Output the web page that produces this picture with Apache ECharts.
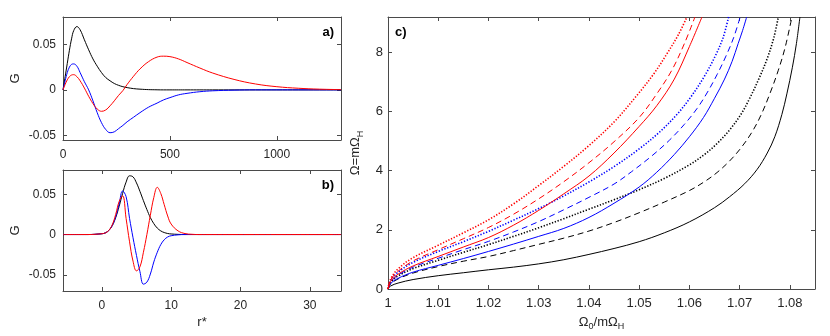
<!DOCTYPE html>
<html>
<head>
<meta charset="utf-8">
<script src="https://cdn.jsdelivr.net/npm/echarts@6/dist/echarts.min.js"></script>
<style>
  html, body { margin: 0; padding: 0; background: #fff; }
  #main { width: 830px; height: 336px; }
</style>
</head>
<body>
<div id="main"></div>
<script>
// panel a) : G against r (wide range)
var aX     = [0, 10, 20, 30, 40, 50, 65, 80, 100, 120, 140, 160, 180, 200, 220, 240, 260, 280, 300, 330, 360, 400, 440, 470, 500, 540, 580, 640, 700, 800, 900, 1000, 1100, 1200, 1300];
var aBlack = [0, 0.0145, 0.029, 0.0435, 0.056, 0.065, 0.0695, 0.066, 0.055, 0.044, 0.034, 0.026, 0.019, 0.0135, 0.010, 0.007, 0.005, 0.0035, 0.0025, 0.0014, 0.0008, 0.0003, 0.0001, 0, 0, 0, 0, 0, 0, 0, 0, 0, 0, 0, 0];
var aBlue  = [0, 0.010, 0.019, 0.025, 0.028, 0.0285, 0.026, 0.019, 0.009, 0, -0.012, -0.025, -0.036, -0.0435, -0.047, -0.046, -0.0425, -0.039, -0.035, -0.030, -0.025, -0.019, -0.0145, -0.011, -0.0085, -0.0055, -0.0038, -0.002, -0.001, -0.0003, 0, 0, 0, 0, 0];
var aRed   = [0, 0.006, 0.011, 0.0145, 0.0163, 0.0167, 0.0145, 0.010, 0.002, -0.007, -0.015, -0.021, -0.0235, -0.022, -0.0175, -0.012, -0.006, -0.0008, 0.006, 0.015, 0.023, 0.031, 0.036, 0.037, 0.0365, 0.034, 0.030, 0.024, 0.0185, 0.0115, 0.0065, 0.0035, 0.0018, 0.0008, 0.0003];

// panel b) : G against r*
var bX     = [-5.6, -2, 0, 0.5, 1, 1.5, 2, 2.5, 3, 3.5, 4, 4.5, 5, 5.5, 6, 6.5, 7, 7.5, 8, 8.5, 9, 9.5, 10, 11, 12, 13, 14, 16, 34.5];
var bBlack = [0, 0, 0.001, 0.002, 0.005, 0.011, 0.021, 0.035, 0.051, 0.065, 0.0728, 0.0715, 0.064, 0.0535, 0.042, 0.031, 0.021, 0.0135, 0.008, 0.0045, 0.0025, 0.0013, 0.0007, 0.0002, 0, 0, 0, 0, 0];
var bBlue  = [0, 0, 0.001, 0.002, 0.005, 0.011, 0.022, 0.038, 0.054, 0.047, 0.020, -0.004, -0.026, -0.046, -0.0615, -0.059, -0.049, -0.034, -0.022, -0.0125, -0.0065, -0.003, -0.0015, -0.0004, 0, 0, 0, 0, 0];
var bRed   = [0, 0, 0.001, 0.002, 0.005, 0.012, 0.025, 0.041, 0.048, 0.020, -0.009, -0.033, -0.045, -0.040, -0.022, 0, 0.024, 0.046, 0.0585, 0.051, 0.037, 0.023, 0.013, 0.0045, 0.0012, 0.0003, 0, 0, 0];

// panel c) : Omega against Omega_0 / m Omega_H  ([x, y] pairs)
var cRedDot = [[1,0],[1.0005,0.33],[1.002,0.68],[1.005,1.06],[1.01,1.48],[1.015,1.9],[1.02,2.34],[1.025,2.88],[1.03,3.5],[1.035,4.15],[1.04,4.85],[1.045,5.65],[1.0498,6.6],[1.053,7.3],[1.0555,7.95],[1.0578,8.6],[1.0595,9.2]];
var cRedDash = [[1,0],[1.0005,0.3],[1.002,0.6],[1.005,0.95],[1.01,1.33],[1.015,1.7],[1.02,2.08],[1.025,2.53],[1.03,3.05],[1.035,3.63],[1.04,4.27],[1.045,4.98],[1.05,5.8],[1.0535,6.6],[1.0565,7.4],[1.059,8.3],[1.0611,9.2]];
var cRedSolid = [[1,0],[1.0005,0.25],[1.002,0.5],[1.005,0.78],[1.01,1.10],[1.015,1.42],[1.02,1.74],[1.025,2.16],[1.03,2.66],[1.035,3.22],[1.04,3.82],[1.045,4.6],[1.05,5.5],[1.0535,6.2],[1.057,7.1],[1.06,8.2],[1.0625,9.2]];
var cBlueDot = [[1,0],[1.0005,0.28],[1.002,0.57],[1.005,0.9],[1.01,1.27],[1.015,1.6],[1.02,1.95],[1.025,2.33],[1.03,2.72],[1.035,3.15],[1.04,3.62],[1.045,4.14],[1.05,4.74],[1.054,5.3],[1.0575,5.9],[1.0603,6.5],[1.063,7.2],[1.0652,7.9],[1.0667,8.5],[1.0678,9.2]];
var cBlueDash = [[1,0],[1.0005,0.23],[1.002,0.47],[1.005,0.74],[1.01,1.04],[1.015,1.33],[1.02,1.61],[1.025,1.93],[1.03,2.28],[1.035,2.68],[1.04,3.1],[1.045,3.55],[1.0485,3.97],[1.0525,4.5],[1.056,5.03],[1.059,5.57],[1.0615,6.1],[1.0635,6.63],[1.0655,7.25],[1.0672,7.85],[1.0688,8.5],[1.0701,9.2]];
var cBlueSolid = [[1,0],[1.0005,0.18],[1.002,0.36],[1.005,0.57],[1.01,0.80],[1.015,1.03],[1.02,1.27],[1.025,1.52],[1.03,1.78],[1.035,2.05],[1.04,2.42],[1.045,2.9],[1.05,3.45],[1.0535,3.95],[1.057,4.55],[1.06,5.15],[1.0628,5.8],[1.065,6.45],[1.067,7.1],[1.0685,7.7],[1.0697,8.3],[1.0706,8.75],[1.0714,9.2]];
var cBlackDot = [[1,0],[1.0005,0.22],[1.002,0.44],[1.005,0.69],[1.01,0.97],[1.015,1.24],[1.02,1.5],[1.025,1.78],[1.03,2.07],[1.035,2.38],[1.04,2.7],[1.045,3.02],[1.05,3.36],[1.055,3.74],[1.06,4.2],[1.063,4.55],[1.0655,4.92],[1.068,5.38],[1.0703,5.92],[1.072,6.45],[1.0738,7.1],[1.0755,7.8],[1.0768,8.5],[1.0777,9.2]];
var cBlackDash = [[1,0],[1.0005,0.17],[1.002,0.34],[1.005,0.54],[1.01,0.76],[1.015,0.94],[1.02,1.1],[1.025,1.3],[1.03,1.51],[1.035,1.72],[1.04,1.96],[1.045,2.25],[1.05,2.58],[1.055,2.94],[1.06,3.33],[1.063,3.63],[1.0655,3.94],[1.068,4.33],[1.0703,4.78],[1.0725,5.32],[1.0743,5.9],[1.076,6.6],[1.0777,7.4],[1.0791,8.2],[1.0804,9.2]];
var cBlackSolid = [[1,0],[1.0005,0.1],[1.002,0.2],[1.005,0.32],[1.01,0.45],[1.015,0.55],[1.02,0.65],[1.025,0.74],[1.03,0.85],[1.035,0.99],[1.04,1.17],[1.045,1.37],[1.05,1.6],[1.055,1.9],[1.06,2.27],[1.065,2.75],[1.068,3.12],[1.071,3.56],[1.0735,4.05],[1.0755,4.6],[1.077,5.15],[1.0784,5.9],[1.0794,6.6],[1.0805,7.5],[1.0813,8.3],[1.082,9.2]];

// tick values
var aXTicks = [0, 500, 1000];
var abYTicks = [-0.05, 0, 0.05];
var bXTicks = [0, 10, 20, 30];
var cXTicks = [1, 1.01, 1.02, 1.03, 1.04, 1.05, 1.06, 1.07, 1.08];
var cYTicks = [0, 2, 4, 6, 8];

var FONT = 'Liberation Sans, Arial, Helvetica, sans-serif';
var AXC = '#4a4a4a';
var TXC = '#262626';

function zip(xs, ys) {
    return xs.map(function (x, i) { return [x, ys[i]]; });
}

// one axis (main ones get labels, mirrored ones only ticks)
function axis(grid, pos, min, max, ticks, withLabel, fontSize) {
    var o = {
        type: 'value', gridIndex: grid, position: pos, min: min, max: max,
        splitLine: { show: false },
        axisLine: { show: true, onZero: false, lineStyle: { color: AXC, width: 1 } },
        axisTick: { show: true, inside: true, length: 4, customValues: ticks, lineStyle: { color: AXC } },
        axisLabel: {
            show: withLabel, customValues: ticks, color: TXC, fontFamily: FONT, fontSize: fontSize || 12,
            formatter: function (v) { return String(Number(v.toFixed(3))); }
        }
    };
    return o;
}

function line(data, xi, color, dash, width, smooth) {
    return {
        type: 'line', xAxisIndex: xi, yAxisIndex: xi, data: data,
        showSymbol: false, silent: true, smooth: smooth,
        lineStyle: { color: color, width: width || 1, type: dash || 'solid' },
        z: 3
    };
}

var DASH = [6, 4];
var DOT = [1.3, 1.7];

var xa = [];
var ya = [];

// a)
var ax0 = axis(0, 'bottom', 0, 1300, aXTicks, true);
ax0.axisLabel.margin = 9;
xa.push(ax0);
var ay0 = axis(0, 'left', -0.055, 0.08, abYTicks, true);
ay0.axisLabel.margin = 7;
ay0.name = 'G'; ay0.nameLocation = 'middle'; ay0.nameGap = 41;
ay0.nameTextStyle = { color: TXC, fontFamily: FONT, fontSize: 13 };
ya.push(ay0);
// b)
var bx0 = axis(1, 'bottom', -5.6, 34.5, bXTicks, true);
bx0.axisLabel.margin = 9;
bx0.name = 'r*'; bx0.nameLocation = 'middle'; bx0.nameGap = 25;
bx0.nameTextStyle = { color: TXC, fontFamily: FONT, fontSize: 13 };
xa.push(bx0);
var by0 = axis(1, 'left', -0.07, 0.08, abYTicks, true);
by0.axisLabel.margin = 7;
by0.name = 'G'; by0.nameLocation = 'middle'; by0.nameGap = 41;
by0.nameTextStyle = { color: TXC, fontFamily: FONT, fontSize: 13 };
ya.push(by0);
// c)
var cx0 = axis(2, 'bottom', 1, 1.085, cXTicks, true, 13);
cx0.axisLabel.margin = 8;
cx0.name = '{o|Ω}{s|0}{o|/mΩ}{s|H}'; cx0.nameLocation = 'middle'; cx0.nameGap = 24;
cx0.nameTextStyle = { color: TXC, fontFamily: FONT, fontSize: 13,
    rich: { o: { fontSize: 13, color: TXC, fontFamily: FONT }, s: { fontSize: 9, color: TXC, fontFamily: FONT, padding: [9, 0, 0, 0] } } };
xa.push(cx0);
var cy0 = axis(2, 'left', 0, 9.2, cYTicks, true, 13);
cy0.axisLabel.margin = 5;
cy0.name = '{o|Ω=mΩ}{s|H}'; cy0.nameLocation = 'middle'; cy0.nameGap = 9;
cy0.nameTextStyle = { color: TXC, fontFamily: FONT, fontSize: 13,
    rich: { o: { fontSize: 13, color: TXC, fontFamily: FONT }, s: { fontSize: 9, color: TXC, fontFamily: FONT, padding: [9, 0, 0, 0] } } };
ya.push(cy0);

// mirrored box axes (top / right)
xa.push(axis(0, 'top', 0, 1300, aXTicks, false));
ya.push(axis(0, 'right', -0.055, 0.08, abYTicks, false));
xa.push(axis(1, 'top', -5.6, 34.5, bXTicks, false));
ya.push(axis(1, 'right', -0.07, 0.08, abYTicks, false));
xa.push(axis(2, 'top', 1, 1.085, cXTicks, false));
ya.push(axis(2, 'right', 0, 9.2, cYTicks, false));

var series = [
    line(zip(aX, aBlack), 0, '#000000', 'solid', 1, 0.4),
    line(zip(aX, aBlue), 0, '#0000ff', 'solid', 1, 0.4),
    line(zip(aX, aRed), 0, '#ff0000', 'solid', 1, 0.4),

    line(zip(bX, bBlack), 1, '#000000', 'solid', 1, 0.4),
    line(zip(bX, bBlue), 1, '#0000ff', 'solid', 1, 0.4),
    line(zip(bX, bRed), 1, '#ff0000', 'solid', 1, 0.4),

    line(cBlackSolid, 2, '#000000', 'solid', 1, 0.35),
    line(cBlackDash, 2, '#000000', DASH, 1, 0.35),
    line(cBlackDot, 2, '#000000', DOT, 1.6, 0.35),
    line(cBlueSolid, 2, '#0000ff', 'solid', 1, 0.35),
    line(cBlueDash, 2, '#0000ff', DASH, 1, 0.35),
    line(cBlueDot, 2, '#0000ff', DOT, 1.6, 0.35),
    line(cRedSolid, 2, '#ff0000', 'solid', 1, 0.35),
    line(cRedDash, 2, '#ff0000', DASH, 1, 0.35),
    line(cRedDot, 2, '#ff0000', DOT, 1.6, 0.35)
];

var myChart = echarts.init(document.getElementById('main'), null, { renderer: 'canvas' });
myChart.setOption({
    animation: false,
    backgroundColor: '#ffffff',
    grid: [
        { left: 63, top: 17, width: 278, height: 123 },
        { left: 63, top: 170, width: 278, height: 121 },
        { left: 388, top: 17, width: 427, height: 274 }
    ],
    xAxis: xa,
    yAxis: ya,
    series: series,
    graphic: [
        { type: 'text', x: 334, y: 32, style: { text: 'a)', font: 'bold 13px ' + FONT, fill: '#000', textAlign: 'right', textVerticalAlign: 'middle' } },
        { type: 'text', x: 334, y: 185, style: { text: 'b)', font: 'bold 13px ' + FONT, fill: '#000', textAlign: 'right', textVerticalAlign: 'middle' } },
        { type: 'text', x: 395, y: 32, style: { text: 'c)', font: 'bold 13px ' + FONT, fill: '#000', textAlign: 'left', textVerticalAlign: 'middle' } }
    ]
});
</script>
</body>
</html>
